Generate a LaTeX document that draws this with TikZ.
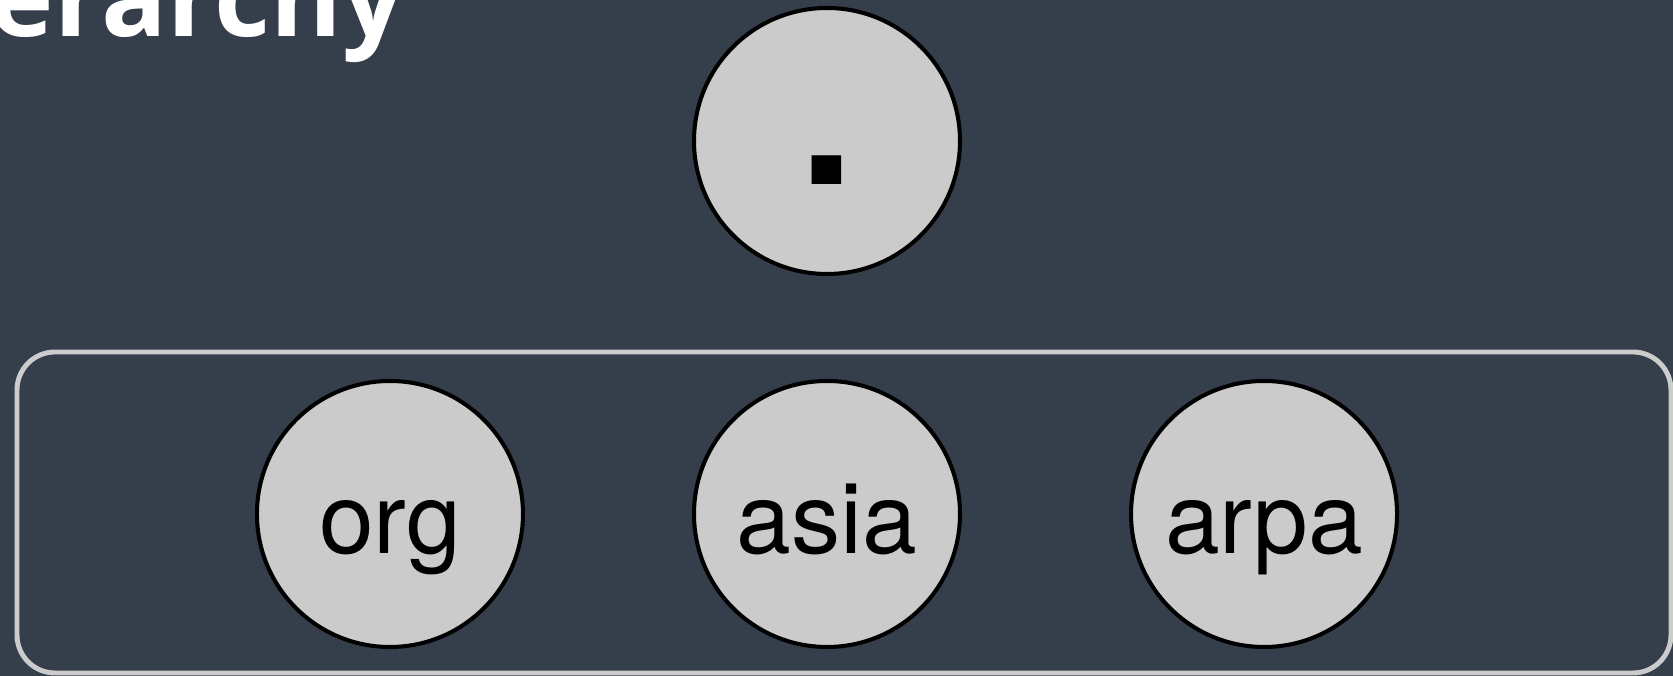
\documentclass[tikz,border=0pt]{standalone}
\usepackage{xcolor}
\usepackage{fontspec}
\setmainfont{TeX Gyre Heros}
\newfontfamily\titlefont{Open Sans}
\usepackage{tikz}
\usetikzlibrary{positioning}
\definecolor{slidebg}{HTML}{353E4B}
\definecolor{zonegray}{HTML}{CCCCCC}
\definecolor{nodegray}{HTML}{CBCBCB}

\begin{document}
\begin{tikzpicture}[
    dnsnode/.style={circle, fill=nodegray, draw=black, line width=1.15pt,
          minimum size=2.66cm, inner sep=0pt, text height=0.8cm, text depth=0cm,
          font=\fontsize{28}{28}\selectfont},
    zonebox/.style={draw=zonegray, line width=1.4pt, rounded corners=0.38cm}]
    \fill[slidebg] (0,0) rectangle (16.73,6.76);
    \useasboundingbox (0,0) rectangle (16.73,6.76);
    \clip (0,0) rectangle (16.73,6.76);
    \node[anchor=base east, inner sep=0pt, text=white,
          font=\titlefont\fontsize{31}{31}\selectfont\bfseries] (title) at (4.05,6.39) {erarchy};
    % root of the tree
    \node[dnsnode, text height=0.88cm, font=\fontsize{56}{56}\selectfont\bfseries] (root) at (8.27,5.35) {.};
    % top level domains
    \draw[zonebox] (0.17,0.03) rectangle (16.71,3.24);
    \node[dnsnode] (asia) at (8.27,1.62) {asia};
    \node[dnsnode, left=1.67cm of asia] (org) {org};
    \node[dnsnode, right=1.67cm of asia] (arpa) {arpa};
  \end{tikzpicture}
\end{document}
